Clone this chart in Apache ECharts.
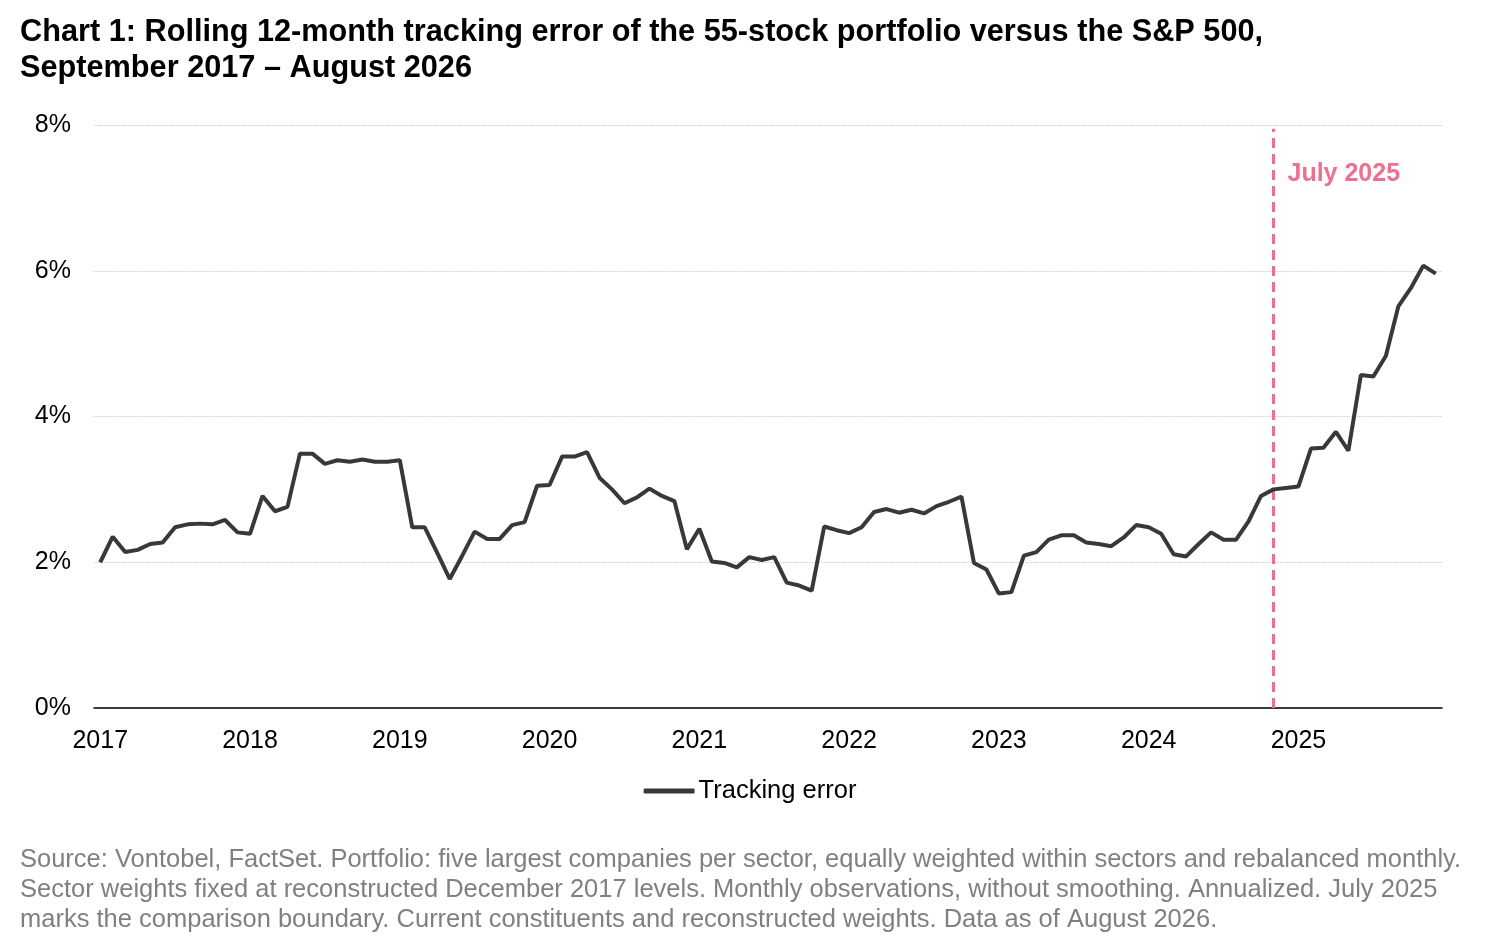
<!DOCTYPE html>
<html>
<head>
<meta charset="utf-8">
<title>Rolling 12-month tracking error</title>
<script src="https://cdn.jsdelivr.net/npm/echarts@6/dist/echarts.min.js"></script>
<style>
  html, body { margin: 0; padding: 0; background: #fff; }
  #chart { width: 1500px; height: 950px; }
</style>
</head>
<body>
<div id="chart"></div>
<script>
// monthly observations, Sep 2017 .. Aug 2026 (in %)
var trackingError = [
  2.00, 2.35, 2.14, 2.17, 2.25, 2.27, 2.48, 2.52, 2.53, 2.52, 2.58, 2.41,
  2.39, 2.91, 2.70, 2.76, 3.49, 3.49, 3.35, 3.40, 3.38, 3.41, 3.38, 3.38,
  3.40, 2.48, 2.48, 2.13, 1.77, 2.09, 2.42, 2.32, 2.32, 2.51, 2.55, 3.05,
  3.06, 3.45, 3.45, 3.51, 3.16, 3.00, 2.81, 2.89, 3.01, 2.91, 2.84, 2.18,
  2.46, 2.01, 1.99, 1.93, 2.07, 2.03, 2.07, 1.72, 1.68, 1.61, 2.49, 2.44,
  2.40, 2.48, 2.69, 2.73, 2.68, 2.72, 2.67, 2.77, 2.83, 2.90, 1.99, 1.90,
  1.57, 1.59, 2.09, 2.14, 2.31, 2.37, 2.37, 2.27, 2.25, 2.22, 2.34, 2.51,
  2.48, 2.39, 2.11, 2.08, 2.25, 2.41, 2.31, 2.31, 2.56, 2.91, 3.00, 3.02,
  3.04, 3.56, 3.57, 3.79, 3.53, 4.57, 4.55, 4.83, 5.51, 5.76, 6.07, 5.96
];
var yTicks = [0, 2, 4, 6, 8];
var boundaryMonth = '2025-07';
var boundaryLabel = 'July 2025';
var seriesName = 'Tracking error';

// month categories
var months = [];
for (var i = 0; i < trackingError.length; i++) {
  var m = 8 + i; // Sep 2017 = month index 8
  var yr = 2017 + Math.floor(m / 12);
  var mo = (m % 12) + 1;
  months.push(yr + '-' + (mo < 10 ? '0' + mo : mo));
}

var FONT = '"Liberation Sans", Arial, sans-serif';
var PINK = '#EE6F8E';
var LINE = '#383838';

var chart = echarts.init(document.getElementById('chart'));
var option = {
  backgroundColor: '#fff',
  animation: false,
  textStyle: { fontFamily: FONT },
  title: [{
    text: 'Chart 1: Rolling 12-month tracking error of the 55-stock portfolio versus the S&P 500,\nSeptember 2017 \u2013 August 2026',
    left: 20,
    top: 15,
    padding: 0,
    textStyle: { fontFamily: FONT, fontSize: 30.7, fontWeight: 'bold', color: '#000', lineHeight: 36 }
  }, {
    text: 'Source: Vontobel, FactSet. Portfolio: five largest companies per sector, equally weighted within sectors and rebalanced monthly.\n' +
          'Sector weights fixed at reconstructed December 2017 levels. Monthly observations, without smoothing. Annualized. July 2025\n' +
          'marks the comparison boundary. Current constituents and reconstructed weights. Data as of August 2026.',
    left: 20,
    top: 845,
    padding: 0,
    textStyle: { fontFamily: FONT, fontSize: 25.5, fontWeight: 'normal', color: '#808080', lineHeight: 30 }
  }],
  legend: {
    data: [{ name: seriesName, icon: 'roundRect' }],
    left: 'center',
    top: 773,
    itemWidth: 51,
    itemHeight: 5,
    itemGap: 10,
    itemStyle: { color: LINE },
    textStyle: { fontFamily: FONT, fontSize: 25.5, color: '#000', padding: [0, 0, 0, -1] }
  },
  grid: { left: 94, right: 58, top: 125, bottom: 242, containLabel: false },
  xAxis: {
    type: 'category',
    data: months,
    boundaryGap: true,
    axisLine: { show: true, lineStyle: { color: '#000', width: 1.5 } },
    axisTick: { show: false },
    axisLabel: {
      interval: 11,
      margin: 21,
      fontSize: 25,
      fontFamily: FONT,
      color: '#000',
      formatter: function (v) { return v.slice(0, 4); }
    },
    splitLine: { show: false }
  },
  yAxis: {
    type: 'value',
    min: yTicks[0],
    max: yTicks[yTicks.length - 1],
    interval: 2,
    axisLine: { show: false },
    axisTick: { show: false },
    axisLabel: { formatter: '{value}%', fontSize: 25, fontFamily: FONT, color: '#000', margin: 23 },
    splitLine: { show: true, lineStyle: { color: '#c8c8c8', type: 'dotted', width: 1.2 } }
  },
  series: [{
    name: seriesName,
    type: 'line',
    data: trackingError,
    symbol: 'none',
    smooth: false,
    lineStyle: { color: LINE, width: 4 },
    itemStyle: { color: LINE },
    z: 3,
    markLine: {
      silent: true,
      symbol: ['none', 'none'],
      label: { show: false },
      lineStyle: { color: PINK, type: [10, 6], width: 3 },
      data: [[{ coord: [boundaryMonth, 0] }, { coord: [boundaryMonth, 7.95] }]],
      z: 2
    },
    markPoint: {
      silent: true,
      symbol: 'circle',
      symbolSize: 0,
      data: [{ coord: [boundaryMonth, 7.33] }],
      label: {
        show: true,
        position: 'right',
        distance: 14,
        formatter: boundaryLabel,
        fontFamily: FONT,
        fontSize: 25,
        fontWeight: 'bold',
        color: PINK
      }
    }
  }]
};
chart.setOption(option);
</script>
</body>
</html>
